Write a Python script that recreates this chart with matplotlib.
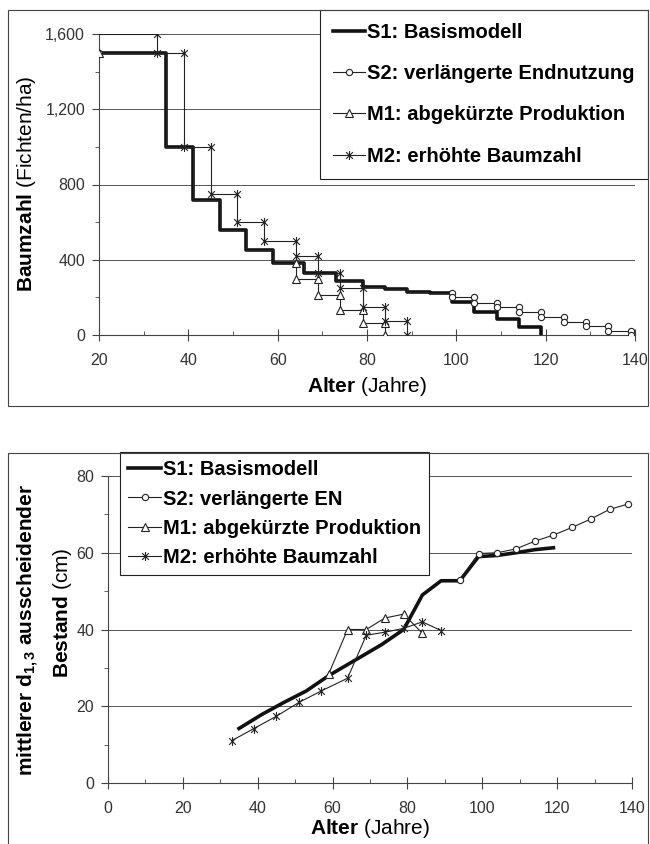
import matplotlib.pyplot as plt
from matplotlib.path import Path
from matplotlib.patches import Rectangle
from matplotlib.ticker import MultipleLocator, FuncFormatter

plt.rcParams.update({
    "font.family": ["Liberation Sans", "DejaVu Sans"],
    "mathtext.fontset": "custom",
    "mathtext.rm": "Liberation Sans",
    "mathtext.it": "Liberation Sans:italic",
    "mathtext.bf": "Liberation Sans:bold",
})

# legend labels
labels_top = ["S1: Basismodell", "S2: verlängerte Endnutzung",
              "M1: abgekürzte Produktion", "M2: erhöhte Baumzahl"]
labels_bottom = ["S1: Basismodell", "S2: verlängerte EN",
                 "M1: abgekürzte Produktion", "M2: erhöhte Baumzahl"]

# top chart: stem number per ha, (thinning age, stems after thinning)
s1_start = (20, 1500)
s1_ages = [35, 41, 47, 53, 59, 66, 73, 79, 84, 89, 94, 99, 104, 109, 114, 119]
s1_n = [1000, 720, 560, 450, 385, 330, 287, 255, 245, 230, 222, 177, 124, 83, 41, 0]
s2_shared = 11   # follows S1 up to age 94
s2_ages = [99, 104, 109, 114, 119, 124, 129, 134, 139]
s2_n = [200, 172, 148, 120, 95, 70, 48, 22, 0]
m1_shared = 5    # follows S1 up to age 59
m1_ages = [64, 69, 74, 79, 84]
m1_n = [300, 215, 135, 65, 0]
m2_start = (20, 1600)
m2_ages = [33, 39, 45, 51, 57, 64, 69, 74, 79, 84, 89]
m2_n = [1500, 1000, 750, 600, 500, 420, 330, 250, 150, 75, 0]

# bottom chart: mean dbh of removed trees (cm)
b_s1_age = [35, 41, 47, 53, 59, 66, 73, 79, 84, 89, 94, 99, 104, 109, 114, 119]
b_s1_d = [14.2, 17.8, 21, 24, 28, 32, 36, 40, 49, 52.7, 52.7, 59, 59.3, 60, 60.8, 61.3]
b_s2_age = [94, 99, 104, 109, 114, 119, 124, 129, 134, 139]
b_s2_d = [53, 59.8, 60, 61, 63, 64.6, 66.6, 68.8, 71.3, 72.7]
b_m1_age = [59, 64, 69, 74, 79, 84]
b_m1_d = [28.5, 40, 40, 43, 44, 39]
b_m2_age = [33, 39, 45, 51, 57, 64, 69, 74, 79, 84, 89]
b_m2_d = [11, 14.2, 17.4, 21, 24, 27.3, 38.5, 39.3, 40.3, 42, 39.7]


def steps(start, ages, vals):
    xs, ys = [start[0]], [start[1]]
    prev = start[1]
    for a, v in zip(ages, vals):
        xs += [a, a]
        ys += [prev, v]
        prev = v
    return xs, ys


# excel-like star marker
star = Path([(0, -1), (0, 1), (-0.75, -0.75), (0.75, 0.75), (-0.75, 0.75), (0.75, -0.75)],
            [Path.MOVETO, Path.LINETO, Path.MOVETO, Path.LINETO, Path.MOVETO, Path.LINETO])

W, H = 650, 844
fig = plt.figure(figsize=(W / 100, H / 100), dpi=100)


def fbox(x0, y0, x1, y1):
    return [x0 / W, 1 - y1 / H, (x1 - x0) / W, (y1 - y0) / H]


# chart area frames
for (x0, y0, x1, y1) in [(8, 10, 648, 406), (8, 453, 648, 900)]:
    fig.add_artist(Rectangle((x0 / W, 1 - y1 / H), (x1 - x0) / W, (y1 - y0) / H,
                             transform=fig.transFigure, fill=False, lw=0.8, ec="#444"))

thin = dict(color="#222", lw=0.8)
circ = dict(marker="o", ms=4.5, mfc="white", mec="#222", mew=0.8)
tri = dict(marker="^", ms=5.5, mfc="white", mec="#222", mew=0.8)
st = dict(marker=star, ms=6.5, mec="#222", mew=0.8)
lab = dict(fontsize=15, ha="center", va="center")


def style_axes(ax):
    for s in ["top", "right"]:
        ax.spines[s].set_visible(False)
    for s in ["left", "bottom"]:
        ax.spines[s].set_color("#444")
        ax.spines[s].set_linewidth(0.8)
    ax.grid(axis="y", which="major", color="#555", lw=0.7)
    ax.set_axisbelow(True)
    ax.tick_params(axis="y", which="major", direction="out", length=5, labelsize=11.5,
                   labelcolor="#333", color="#444", pad=5)
    ax.tick_params(axis="y", which="minor", direction="out", length=3, color="#444")
    ax.tick_params(axis="x", which="major", direction="inout", length=8, labelsize=11.5,
                   labelcolor="#333", color="#444", pad=9)
    ax.tick_params(axis="x", which="minor", direction="in", length=3, color="#444")


def make_legend(ax, labels, x, y, loc, spacing, pad):
    leg = ax.legend(labels, loc=loc, bbox_to_anchor=(x / W, 1 - y / H),
                    bbox_transform=fig.transFigure, borderaxespad=0, fancybox=False,
                    framealpha=1, edgecolor="#222", handlelength=1.6, handletextpad=0.1,
                    labelspacing=spacing, borderpad=pad,
                    prop={"weight": "bold", "size": 14.5})
    leg.get_frame().set_linewidth(0.8)
    return leg


# ---------------- top chart ----------------
ax1 = fig.add_axes(fbox(99, 34, 635, 335))
x, y = steps(s1_start, s1_ages, s1_n)
ax1.plot(x, y, color="#111", lw=2.6, zorder=3)
x, y = steps(s1_start, s1_ages[:s2_shared] + s2_ages, s1_n[:s2_shared] + s2_n)
ax1.plot(x, y, **thin, **circ, markevery=[0] + list(range(1 + 2 * s2_shared, len(x))), zorder=4)
x, y = steps(s1_start, s1_ages[:m1_shared] + m1_ages, s1_n[:m1_shared] + m1_n)
ax1.plot(x, y, **thin, **tri, markevery=[0] + list(range(1 + 2 * m1_shared, len(x))), zorder=4)
x, y = steps(m2_start, m2_ages, m2_n)
ax1.plot(x, y, **thin, **st, markevery=list(range(1, len(x))), zorder=4)

ax1.set_xlim(20, 140)
ax1.set_ylim(0, 1600)
ax1.xaxis.set_major_locator(MultipleLocator(20))
ax1.xaxis.set_minor_locator(MultipleLocator(10))
ax1.yaxis.set_major_locator(MultipleLocator(400))
ax1.yaxis.set_minor_locator(MultipleLocator(200))
ax1.yaxis.set_major_formatter(FuncFormatter(lambda v, p: f"{v:,.0f}"))
style_axes(ax1)
fig.text(367 / W, 1 - 387 / H, r"$\mathbf{Alter}$ (Jahre)", **lab)
fig.text(27 / W, 1 - 184 / H, r"$\mathbf{Baumzahl}$ (Fichten/ha)", rotation=90, **lab)
make_legend(ax1, labels_top, 648, 10, "upper right", 1.1, 0.65)

# ---------------- bottom chart ----------------
ax2 = fig.add_axes(fbox(108, 476, 632, 783))
ax2.plot(b_s1_age, b_s1_d, color="#111", lw=2.6, zorder=3)
ax2.plot(b_s2_age, b_s2_d, **thin, **circ, zorder=4)
ax2.plot(b_m1_age, b_m1_d, **thin, **tri, zorder=4)
ax2.plot(b_m2_age, b_m2_d, **thin, **st, zorder=4)

ax2.set_xlim(0, 140)
ax2.set_ylim(0, 80)
ax2.xaxis.set_major_locator(MultipleLocator(20))
ax2.xaxis.set_minor_locator(MultipleLocator(10))
ax2.yaxis.set_major_locator(MultipleLocator(20))
ax2.yaxis.set_minor_locator(MultipleLocator(10))
style_axes(ax2)
fig.text(370 / W, 1 - 828 / H, r"$\mathbf{Alter}$ (Jahre)", **lab)
fig.text(28 / W, 1 - 630 / H, r"$\mathbf{mittlerer\ d_{1,3}\ ausscheidender}$",
         rotation=90, **lab)
fig.text(62 / W, 1 - 613 / H, r"$\mathbf{Bestand}$ (cm)", rotation=90, **lab)
make_legend(ax2, labels_bottom, 120, 452, "upper left", 0.5, 0.42)

fig.savefig("out.png", dpi=100)
